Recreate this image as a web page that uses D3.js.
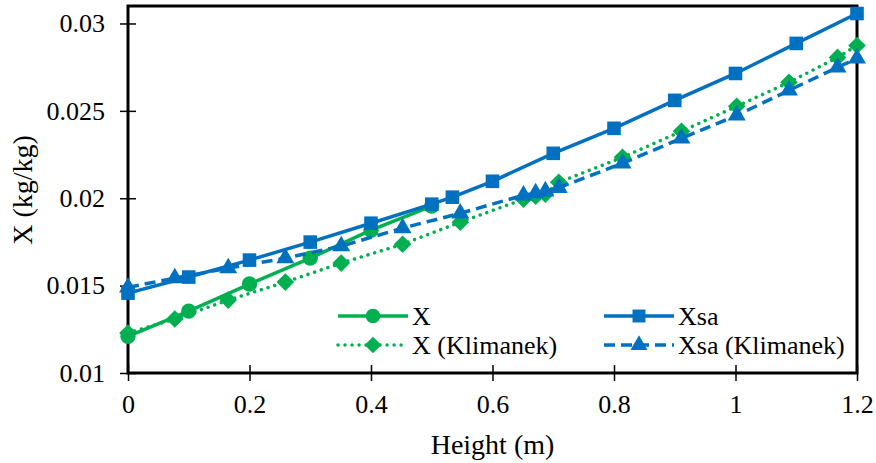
<!DOCTYPE html>
<html>
<head>
<meta charset="utf-8">
<script src="https://cdn.jsdelivr.net/npm/d3@7"></script>
<style>
  body { margin: 0; background: #fff; }
</style>
</head>
<body>
<script>
// canvas size
var width = 876
var height = 463
const fontFamily = "Liberation Serif"

// data
const xHeight = [0, 0.1, 0.2, 0.3, 0.4, 0.5]
const xValues = [0.0121, 0.01354, 0.01509, 0.01657, 0.01817, 0.01955]

const xsaHeight = [0, 0.1, 0.2, 0.3, 0.4, 0.5, 0.534, 0.6, 0.7, 0.8, 0.9, 1.0, 1.1, 1.2]
const xsaValues = [0.01457, 0.01549, 0.01646, 0.01749, 0.01857, 0.01966, 0.02006, 0.02097, 0.02257, 0.024, 0.0256, 0.02714, 0.02886, 0.03057]

const klimHeight = [0, 0.077, 0.165, 0.259, 0.351, 0.452, 0.547, 0.651, 0.671, 0.687, 0.709, 0.814, 0.911, 1.002, 1.088, 1.168, 1.2]
const xKlimValues = [0.01229, 0.01309, 0.01417, 0.0152, 0.01629, 0.01737, 0.01863, 0.01994, 0.02011, 0.02023, 0.02091, 0.02234, 0.02383, 0.02526, 0.02663, 0.02806, 0.02874]
const xsaKlimValues = [0.0149, 0.01543, 0.016, 0.01657, 0.01726, 0.01829, 0.01914, 0.02017, 0.02029, 0.0204, 0.0206, 0.022, 0.02343, 0.02474, 0.02617, 0.02749, 0.028]

const xTicks = [0, 0.2, 0.4, 0.6, 0.8, 1, 1.2]
const yTicks = [0.01, 0.015, 0.02, 0.025, 0.03]

const green = "#00B050"
const blue = "#0070C0"

// series in the order the legend reads them
const series = [
    {name: "X", xs: xHeight, ys: xValues, color: green, dash: null, symbol: d3.symbolCircle, size: 185, rot: 0},
    {name: "Xsa", xs: xsaHeight, ys: xsaValues, color: blue, dash: null, symbol: d3.symbolSquare, size: 185, rot: 0},
    {name: "X (Klimanek)", xs: klimHeight, ys: xKlimValues, color: green, dash: "0.01,7", symbol: d3.symbolSquare, size: 155, rot: 45},
    {name: "Xsa (Klimanek)", xs: klimHeight, ys: xsaKlimValues, color: blue, dash: "11,6", symbol: d3.symbolTriangle, size: 140, rot: 0}
]

const margin = {top: 6, right: 19, bottom: 90, left: 128}

const svg = d3.select("body")
    .append("svg")
    .attr("width", width)
    .attr("height", height)

const xScale = d3.scaleLinear()
    .domain([0, 1.2])
    .range([margin.left, width - margin.right])

const yScale = d3.scaleLinear()
    .domain([0.01, 0.031])
    .range([height - margin.bottom, margin.top])

//axes, ticks crossing the axis line
const xAxis = svg.append("g")
    .attr("transform", "translate(0," + yScale(0.01) + ")")
    .call(d3.axisBottom(xScale).tickValues(xTicks).tickFormat(d3.format("~g")).tickSize(8).tickPadding(14))
xAxis.select(".domain").remove()
xAxis.selectAll(".tick line").attr("y1", -8).attr("stroke-width", 1.5)
xAxis.selectAll(".tick text").attr("font-size", "26px").attr("font-family", fontFamily).attr("fill", "#000")

const yAxis = svg.append("g")
    .attr("transform", "translate(" + xScale(0) + ",0)")
    .call(d3.axisLeft(yScale).tickValues(yTicks).tickFormat(d3.format("~g")).tickSize(8).tickPadding(15))
yAxis.select(".domain").remove()
yAxis.selectAll(".tick line").attr("x1", 8).attr("stroke-width", 1.5)
yAxis.selectAll(".tick text").attr("font-size", "26px").attr("font-family", fontFamily).attr("fill", "#000")

//frame around the plot
svg.append("rect")
    .attr("x", xScale(0))
    .attr("y", yScale(0.031))
    .attr("width", xScale(1.2) - xScale(0))
    .attr("height", yScale(0.01) - yScale(0.031))
    .attr("fill", "none")
    .attr("stroke", "#000")
    .attr("stroke-width", 3)

//axis titles
svg.append("text")
    .attr("x", (xScale(0) + xScale(1.2)) / 2)
    .attr("y", 454)
    .attr("text-anchor", "middle")
    .attr("font-family", fontFamily)
    .attr("font-size", "28px")
    .text("Height (m)")

svg.append("text")
    .attr("transform", "translate(32," + 190 + ") rotate(-90)")
    .attr("text-anchor", "middle")
    .attr("font-family", fontFamily)
    .attr("font-size", "28px")
    .text("X (kg/kg)")

//lines and markers
const line = d3.line()
    .x(d => xScale(d[0]))
    .y(d => yScale(d[1]))

const plot = svg.append("g")
series.forEach(s => {
    const pts = s.xs.map((x, i) => [x, s.ys[i]])
    plot.append("path")
        .datum(pts)
        .attr("d", line)
        .attr("fill", "none")
        .attr("stroke", s.color)
        .attr("stroke-width", 3.5)
        .attr("stroke-linecap", s.dash && s.dash.startsWith("0.01") ? "round" : "butt")
        .attr("stroke-dasharray", s.dash)
    plot.append("g").selectAll("path")
        .data(pts)
        .enter()
        .append("path")
        .attr("d", d3.symbol().type(s.symbol).size(s.size))
        .attr("transform", d => "translate(" + xScale(d[0]) + "," + yScale(d[1]) + ") rotate(" + s.rot + ")")
        .attr("fill", s.color)
})

//legend, two columns
const legendPos = [[338, 316], [604, 316], [338, 345], [604, 345]]
series.forEach((s, i) => {
    const lg = svg.append("g")
        .attr("transform", "translate(" + legendPos[i][0] + "," + legendPos[i][1] + ")")
    lg.append("line")
        .attr("x1", 0).attr("x2", 70)
        .attr("stroke", s.color)
        .attr("stroke-width", 3.5)
        .attr("stroke-linecap", s.dash && s.dash.startsWith("0.01") ? "round" : "butt")
        .attr("stroke-dasharray", s.dash)
    lg.append("path")
        .attr("d", d3.symbol().type(s.symbol).size(s.size * 0.9))
        .attr("transform", "translate(35,0) rotate(" + s.rot + ")")
        .attr("fill", s.color)
    lg.append("text")
        .attr("x", 74)
        .attr("y", 9)
        .attr("font-family", fontFamily)
        .attr("font-size", "26px")
        .text(s.name)
})
</script>
</body>
</html>
